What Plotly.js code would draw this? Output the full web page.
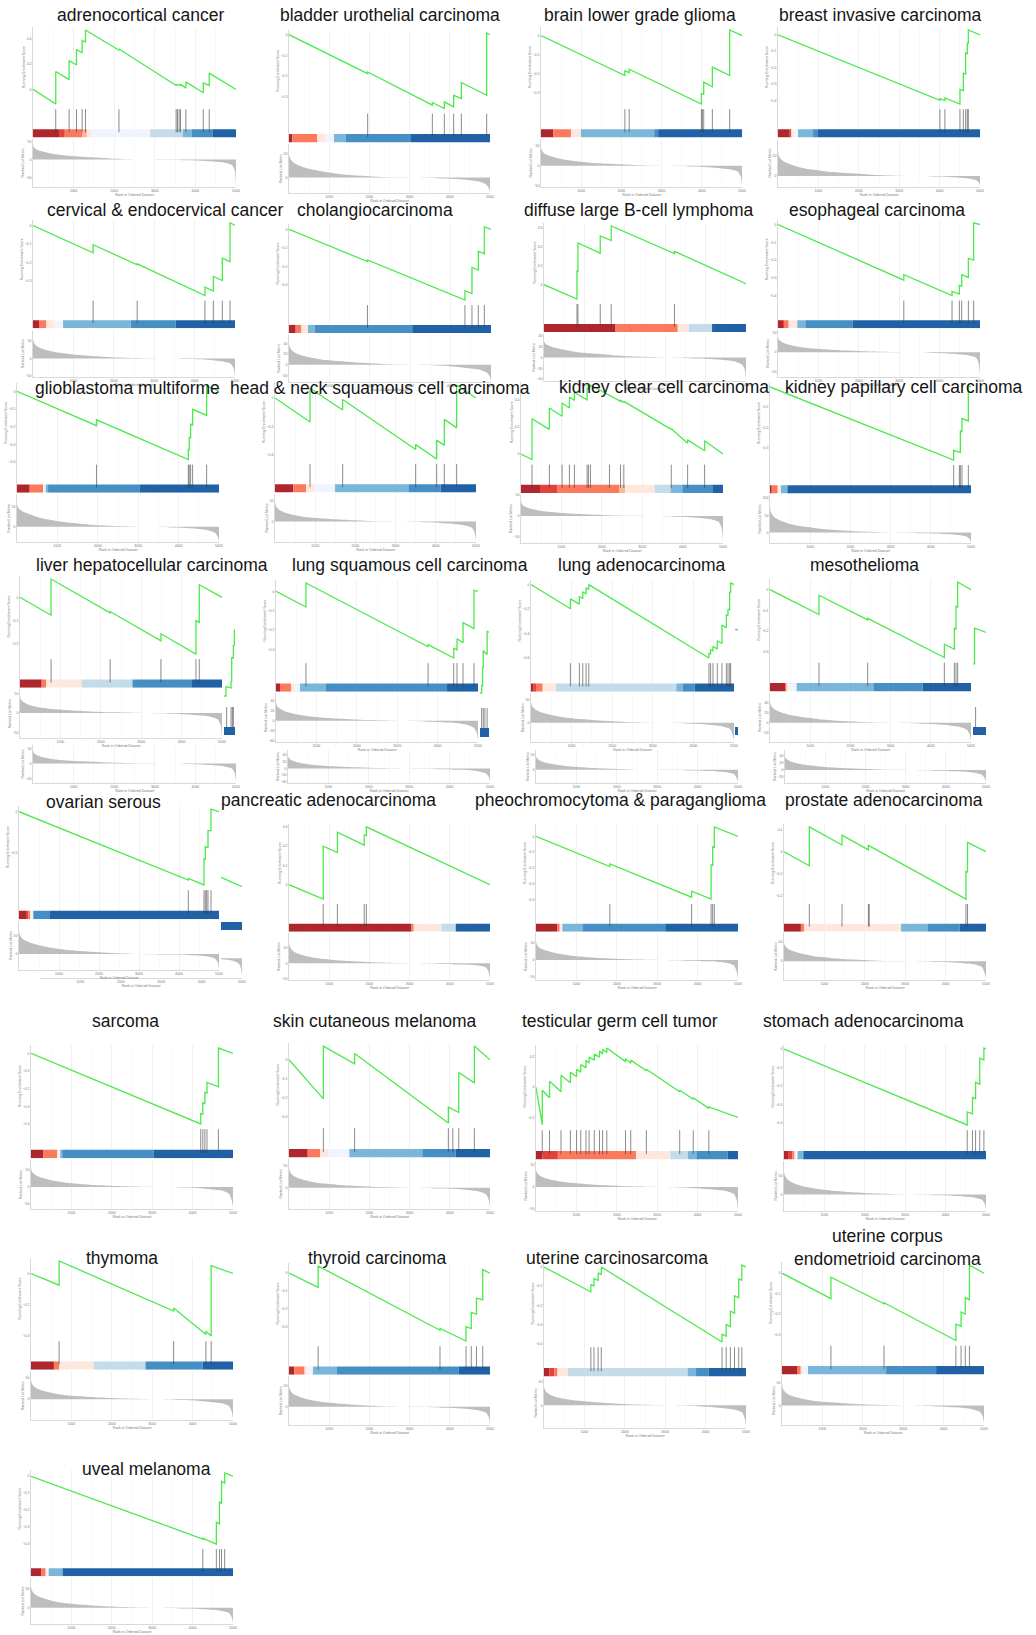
<!DOCTYPE html>
<html><head><meta charset="utf-8">
<script src="https://cdn.plot.ly/plotly-3.0.1.min.js"></script>
<style>body{margin:0;background:#fff}#chart{width:1036px;height:1635px}</style>
</head><body><div id="chart"></div>
<script>
// ---------------- DATA ----------------
const titles = ["adrenocortical cancer","bladder urothelial carcinoma","brain lower grade glioma","breast invasive carcinoma",
"cervical & endocervical cancer","cholangiocarcinoma","diffuse large B-cell lymphoma","esophageal carcinoma",
"glioblastoma multiforme","head & neck squamous cell carcinoma","kidney clear cell carcinoma","kidney papillary cell carcinoma",
"liver hepatocellular carcinoma","lung squamous cell carcinoma","lung adenocarcinoma","mesothelioma",
"ovarian serous","pancreatic adenocarcinoma","pheochromocytoma & paraganglioma","prostate adenocarcinoma",
"sarcoma","skin cutaneous melanoma","testicular germ cell tumor","stomach adenocarcinoma",
"thymoma","thyroid carcinoma","uterine carcinosarcoma","uterine corpus<br>endometrioid carcinoma",
"uveal melanoma"];

const esX = [
[0,560,560,890,890,1071,1071,1211,1211,1293,1293,2117,2117,3526,3526,3633,3633,3765,3765,4193,4193,4341,4341,5000],
[0,1957,1957,3566,3566,3864,3864,4096,4096,4287,4287,4917,4917,5000],
[0,2086,2086,2194,2194,3990,3990,4048,4048,4263,4263,4694,4694,5000],
[0,4008,4008,4132,4132,4504,4504,4587,4587,4645,4645,4686,4686,4711,4711,5000],
[0,1488,1488,2579,2579,4256,4256,4463,4463,4686,4686,4876,4876,5000],
[0,1942,1942,4355,4355,4529,4529,4686,4686,4835,4835,5000],
[0,816,816,840,840,1392,1392,1664,1664,3229,3229,5000],
[0,3114,3114,4308,4308,4489,4489,4547,4547,4712,4712,4843,4843,5000],
[0,1967,1967,4240,4240,4264,4264,4298,4298,4347,4347,4694,4694,5000],
[0,871,871,1683,1683,3499,3499,4022,4022,4212,4212,4519,4519,5000],
[0,273,273,702,702,1017,1017,1198,1198,1322,1322,1636,1636,1669,1669,1719,1719,2190,2190,2463,2463,2545,2545,3719,3719,4124,4124,4545,4545,5000],
[0,4569,4569,4735,4735,4776,4776,4934,4934,5000],
[0,769,769,2231,2231,3488,3488,4355,4355,4438,4438,5000],
[0,741,741,3764,3764,4399,4399,4481,4481,4629,4629,4901,4901,5000],
[0,970,970,1192,1192,1275,1275,1357,1357,1423,1423,4383,4383,4424,4424,4482,4482,4589,4589,4704,4704,4811,4811,4852,4852,4893,4893,4918,4918,5000],
[0,1219,1219,2430,2430,4337,4337,4585,4585,4627,4627,4668,4668,5000],
[0,4233,4233,4625,4625,4658,4658,4725,4725,4800,4800,5000],
[0,851,851,1204,1204,1872,1872,1924,1924,5000],
[0,1828,1828,3851,3851,4334,4334,4373,4373,4413,4413,5000],
[0,627,627,1436,1436,2089,2089,4504,4504,4543,4543,5000],
[0,4201,4201,4253,4253,4304,4304,4356,4356,4639,4639,5000],
[0,855,855,1632,1632,3964,3964,4223,4223,4611,4611,5000],
[0,155,155,335,335,619,619,851,851,1005,1005,1108,1108,1237,1237,1314,1314,1443,1443,1572,1572,1649,1649,1753,1753,2216,2216,2345,2345,2732,2732,3557,3557,3892,3892,4278,4278,5000],
[0,4536,4536,4665,4665,4742,4742,4845,4845,4948,4948,5000],
[0,696,696,3531,3531,4330,4330,4459,4459,5000],
[0,725,725,3756,3756,4404,4404,4534,4534,4663,4663,4819,4819,5000],
[0,1160,1160,1237,1237,1340,1340,1418,1418,4407,4407,4510,4510,4613,4613,4716,4716,4820,4820,4897,4897,5000],
[0,1211,1211,2526,2526,4304,4304,4433,4433,4536,4536,4639,4639,5000],
[0,4253,4253,4588,4588,4665,4665,4716,4716,4794,4794,5000]
];
const esY = [
[0,-0.115,0.141,0.077,0.226,0.192,0.313,0.287,0.385,0.372,0.467,0.308,0.318,0.031,0.038,0.033,0.040,0.010,0.059,-0.026,0.051,0.031,0.128,0],
[0,-0.189,-0.181,-0.342,-0.329,-0.358,-0.326,-0.350,-0.294,-0.310,-0.232,-0.294,0.008,0],
[0,-0.208,-0.183,-0.193,-0.175,-0.356,-0.302,-0.305,-0.242,-0.266,-0.164,-0.208,0.029,0],
[0,-0.40,-0.39,-0.402,-0.386,-0.423,-0.334,-0.342,-0.234,-0.240,-0.11,-0.114,-0.05,-0.052,0.03,0],
[0,-0.148,-0.104,-0.213,-0.208,-0.38,-0.334,-0.355,-0.276,-0.298,-0.177,-0.196,0.014,0.002],
[0,-0.173,-0.164,-0.38,-0.33,-0.345,-0.205,-0.219,-0.118,-0.131,0.013,0],
[0,-0.076,0.073,0.071,0.220,0.166,0.257,0.233,0.310,0.164,0.176,0.005],
[0,-0.313,-0.282,-0.40,-0.376,-0.391,-0.342,-0.346,-0.282,-0.298,-0.191,-0.200,0.009,0],
[0,-0.194,-0.161,-0.385,-0.328,-0.330,-0.259,-0.262,-0.185,-0.190,-0.102,-0.136,0.030,0],
[0,-0.170,0.070,-0.085,-0.010,-0.364,-0.330,-0.432,-0.298,-0.335,-0.151,-0.211,0.093,0],
[0,-0.041,0.261,0.183,0.341,0.280,0.378,0.341,0.422,0.398,0.456,0.402,0.488,0.484,0.505,0.500,0.512,0.432,0.437,0.390,0.398,0.385,0.390,0.183,0.188,0.080,0.105,0.024,0.098,0],
[0,-0.361,-0.313,-0.323,-0.216,-0.222,-0.156,-0.168,0.005,0],
[0,-0.077,0.079,-0.067,-0.061,-0.187,-0.157,-0.244,-0.100,-0.108,0.054,0],
[0,-0.081,0.043,-0.287,-0.276,-0.345,-0.293,-0.305,-0.245,-0.266,-0.162,-0.193,0.005,0],
[0,-0.197,-0.117,-0.160,-0.099,-0.112,-0.059,-0.077,-0.027,-0.037,0.0,-0.60,-0.56,-0.568,-0.53,-0.542,-0.504,-0.526,-0.459,-0.482,-0.331,-0.353,-0.245,-0.253,-0.20,-0.208,-0.059,-0.064,0.013,0],
[0,-0.120,-0.027,-0.146,-0.139,-0.328,-0.264,-0.288,-0.187,-0.191,-0.080,-0.084,0.037,0],
[0,-0.84,-0.82,-0.90,-0.58,-0.585,-0.43,-0.44,-0.23,-0.235,0.033,0],
[0,-0.075,0.20,0.167,0.272,0.205,0.258,0.255,0.30,0],
[0,-0.19,-0.174,-0.384,-0.346,-0.396,-0.18,-0.184,-0.066,-0.070,0.06,0],
[0,-0.064,0.114,0.031,0.076,0.009,0.029,-0.217,-0.090,-0.093,0.043,0],
[0,-0.40,-0.34,-0.345,-0.28,-0.285,-0.22,-0.225,-0.165,-0.19,0.03,0],
[0,-0.206,0.072,-0.022,0.033,-0.333,-0.25,-0.278,-0.067,-0.122,0.072,0],
[0,-0.25,-0.02,-0.07,0.04,-0.03,0.08,0.03,0.1,0.07,0.12,0.1,0.15,0.13,0.18,0.16,0.2,0.18,0.22,0.2,0.24,0.22,0.25,0.23,0.26,0.17,0.19,0.16,0.18,0.11,0.12,-0.03,-0.02,-0.08,-0.07,-0.14,-0.13,-0.2],
[0,-0.41,-0.34,-0.35,-0.26,-0.27,-0.18,-0.19,-0.05,-0.06,0.005,0],
[0,-0.075,0.08,-0.24,-0.22,-0.39,-0.37,-0.40,0.05,0],
[0,-0.08,0.04,-0.32,-0.31,-0.38,-0.30,-0.31,-0.22,-0.23,-0.14,-0.15,0.02,0],
[0,-0.13,-0.09,-0.1,-0.06,-0.07,-0.03,-0.04,0.0,-0.39,-0.35,-0.36,-0.30,-0.31,-0.23,-0.24,-0.15,-0.16,-0.06,-0.07,0.01,0],
[0,-0.125,-0.02,-0.15,-0.145,-0.33,-0.25,-0.26,-0.19,-0.2,-0.12,-0.13,0.04,0],
[0,-0.37,-0.365,-0.40,-0.27,-0.28,-0.15,-0.16,-0.03,-0.04,0.02,0]
];

const hitPos = [
[560,890,1071,1211,1293,2117,3526,3559,3600,3633,3765,4193,4341],
[1957,3566,3864,4096,4287,4917],
[2086,2194,3990,4015,4048,4263,4694],
[4008,4132,4504,4587,4645,4686,4711],
[1488,2579,4256,4463,4686,4876],
[1942,4355,4529,4686,4835],
[816,840,1392,1664,3229],
[3114,4308,4489,4547,4712,4843],
[1967,4240,4264,4298,4347,4694],
[871,1683,3499,4022,4212,4519],
[273,702,1017,1198,1322,1636,1669,1719,2190,2463,2545,3719,4124,4545],
[4569,4710,4735,4776,4934],
[769,2231,3488,4355,4438],
[741,3764,4399,4481,4629,4901],
[970,1192,1275,1357,1423,4383,4424,4482,4589,4704,4811,4852,4893,4918],
[1219,2430,4337,4585,4627,4668],
[4233,4625,4658,4692,4725,4800],
[851,1204,1872,1924],
[1828,3851,4334,4373,4413],
[627,1436,2089,2110,4504,4543],
[4201,4253,4304,4356,4639],
[855,1632,3964,4075,4223,4611],
[155,335,619,851,1005,1108,1237,1314,1443,1572,1649,1753,2216,2345,2732,3557,3892,4278],
[4536,4665,4742,4845,4948],
[696,3531,4330,4459],
[725,3756,4404,4534,4663,4819],
[1160,1237,1340,1418,4407,4510,4613,4716,4820,4897],
[1211,2526,4304,4433,4536,4639],
[4253,4588,4665,4716,4794]
];

const binColors = ["#AE272C","#E1423C","#FB795C","#FCB69C","#FEE8DD","#F1F4FF","#C4DBE9","#7AB6DA","#468FC4","#2162A6"];
const binEdges = [
[0,659,783,1219,1334,1442,2883,3690,3913,4432,5000],
[0,83,83,705,705,896,1119,1119,1418,3035,5000],
[0,306,306,745,745,993,993,993,2815,2914,5000],
[0,289,331,331,331,400,496,496,868,975,5000],
[0,149,149,331,331,537,744,744,2421,3529,5000],
[0,165,165,306,306,471,471,471,636,3050,5000],
[0,1771,1771,3311,3311,3583,3583,4160,4160,4160,5000],
[0,124,165,264,264,478,478,478,676,1853,5000],
[0,314,314,645,645,680,711,711,769,3041,5000],
[0,456,456,771,771,970,1493,1493,3317,4121,5000],
[0,471,893,2438,2579,3306,3306,3702,3992,4736,5000],
[0,30,66,191,191,274,274,274,423,440,5000],
[0,537,537,645,645,1529,1529,2785,2785,4240,5000],
[0,99,99,371,371,450,593,593,1227,4234,5000],
[0,66,123,288,288,617,617,3577,3742,4030,5000],
[0,373,373,415,415,450,663,663,2571,3798,5000],
[0,175,233,275,275,310,358,358,358,758,5000],
[0,3037,3037,3102,3102,3796,3796,4149,4149,4149,5000],
[0,522,522,587,587,620,653,653,1149,3198,5000],
[0,418,418,496,496,2898,2898,2898,3551,4347,5000],
[0,309,309,644,644,700,722,722,773,3041,5000],
[0,466,466,777,777,984,1503,1503,3316,4145,5000],
[0,155,541,2474,2474,3325,3325,3763,3969,4742,5000],
[0,100,206,258,258,300,335,335,464,480,5000],
[0,567,567,696,696,1546,1546,2835,2835,4253,5000],
[0,130,130,389,389,450,596,596,1192,4223,5000],
[0,129,258,335,335,593,593,3557,3763,4072,5000],
[0,387,387,464,464,520,644,644,2577,3814,5000],
[0,258,258,361,361,400,438,438,773,790,5000]
];

const rankX = [0,25,100,250,500,800,1200,1700,2300,2800,3300,3800,4300,4700,4900,4970,5000];
const rankY = [
[39,33,27,22,15,11,7.5,4.5,1,0.3,-0.5,-2,-4.5,-8,-15,-30,-70],
[48,40,32,25,18,13,8,4,1,0.3,-0.5,-2,-4,-8,-14,-22,-30],
[47,38,30,24,17,12,8,5,2,0.5,-0.5,-2,-5,-9,-15,-28,-50],
[62,48,38,30,22,16,11,7,3,1,-0.5,-1.5,-3,-6,-10,-16,-25],
[57,45,35,27,19,14,9,5,2,0.5,-0.5,-2,-4,-9,-16,-30,-50],
[39,32,25,19,14,10,7,4,1.5,0.4,-0.5,-2,-5,-9,-15,-22,-30],
[30,26,22,18,14,10,7,4,1.5,0.4,-0.5,-2,-4,-7,-13,-22,-40],
[40,32,26,20,14,10,7,4,1.5,0.4,-0.5,-2,-4,-8,-14,-30,-60],
[55,47,40,33,24,17,11,6,2,0.5,-0.5,-2,-4,-8,-15,-25,-35],
[45,36,28,21,15,10,7,4,1.5,0.4,-0.5,-2,-5,-9,-15,-28,-45],
[35,28,22,17,12,9,6,3.5,1.2,0.3,-0.5,-2,-4,-8,-15,-30,-60],
[75,58,45,35,25,18,12,7,3,1,-0.5,-2,-4,-7,-12,-20,-28],
[42,34,27,20,14,10,7,4,1.5,0.4,-0.5,-2,-5,-9,-17,-33,-60],
[38,30,24,18,13,9,6,3.5,1.2,0.3,-0.5,-2,-4,-8,-15,-25,-40],
[45,37,30,23,17,12,8,4.5,1.5,0.4,-0.5,-2,-4,-8,-14,-28,-40],
[40,33,27,21,15,11,7,4,1.5,0.4,-0.5,-2,-4,-8,-14,-24,-35],
[62,50,40,32,24,17,11,7,3,1,-0.5,-1.5,-3,-6,-12,-23,-40],
[67,52,40,30,21,15,10,6,2.5,0.7,-0.5,-2,-4,-7,-13,-30,-50],
[55,45,36,28,20,14,9,5,2,0.5,-0.5,-2,-4,-8,-16,-35,-55],
[50,40,32,25,18,12,8,4.5,1.5,0.4,-0.5,-2,-4,-8,-15,-32,-45],
[55,45,36,28,20,14,9,5,2,0.5,-0.5,-2,-5,-10,-20,-40,-60],
[45,36,28,21,15,10,7,4,1.5,0.4,-0.5,-2,-4,-8,-15,-28,-45],
[40,32,25,19,14,10,7,4,1.5,0.4,-0.5,-2,-5,-9,-16,-30,-50],
[60,48,38,29,21,15,10,6,2.5,0.7,-0.5,-2,-4,-8,-14,-25,-40],
[45,36,28,21,15,10,7,4,1.5,0.4,-0.5,-2,-5,-9,-16,-30,-45],
[50,40,31,24,17,12,8,4.5,1.5,0.4,-0.5,-2,-4,-8,-14,-25,-40],
[40,32,25,19,14,10,7,4,1.5,0.4,-0.5,-2,-5,-9,-15,-28,-45],
[45,36,28,21,15,10,7,4,1.5,0.4,-0.5,-2,-4,-8,-14,-25,-40],
[55,45,35,27,19,13,9,5,2,0.5,-0.5,-2,-4,-8,-14,-25,-40]
];
const xTicks = [1000,2000,3000,4000,5000];

// fragments (stray pieces next to row-4/5 panels), in 0..1 units
const fragEsX = [
[0,0.18,0.18,0.55,0.64,0.64,0.70,0.70,0.85,0.85,0.94,0.94,1],
[0,0.18,0.18,0.29,0.29,0.36,0.36,0.79,0.79,1],
[0,1],
[0,0.12,0.12,1],
[0,1]
];
const fragEsY = [
[0,0,0.14,0.13,0.12,0.22,0.21,0.58,0.56,0.76,0.75,0.99,0.98],
[0,0,0.12,0.12,0.41,0.41,0.67,0.61,0.98,0.96],
[0.5,0.45],
[0,0,1,0.88],
[1,0]
];
const fragHits = [[0.24,0.64,0.76,0.85],[0.18,0.36,0.54,0.79],[],[0.2],[]];
const fragRankX = [0,0.3,0.6,0.85,0.95,1];
const fragRankY = [-0.05,-0.08,-0.14,-0.3,-0.55,-1];

// ---------------- LAYOUT POSITIONS (px) ----------------
const W = 1036, H = 1635;
// [x0, x1, yTop, yBot, titleX, titleY]
const panelBox = [
[33,236,27,187,140,15],[289,490,30,193,390,15],[541,742,27,187,640,15],[778,980,27,187,880,15],
[33,235,220,377,165,210],[289,491,224,382,375,210],[544,746,223,381,638,210],[778,980,220,377,877,210],
[17,219,383,542,127,388],[275,476,382,542,380,388],[521,723,382,543,664,387],[770,971,383,543,904,387],
[20,222,576,738,152,565],[276,478,580,742,410,565],[531,734,580,742,642,565],[770,971,579,742,864,565],
[19,219,806,970,103,802],[289,490,824,980,328,800],[536,738,824,980,620,800],[784,986,824,980,884,800],
[31,233,1045,1209,125,1021],[289,490,1043,1209,375,1021],[536,738,1045,1211,620,1021],[784,986,1045,1211,863,1021],
[31,233,1258,1420,122,1258],[289,490,1263,1425,377,1258],[544,746,1262,1428,617,1258],[782,984,1262,1425,887,1247],
[31,233,1470,1624,146,1469]
];
// second ranked panels in row 4: [panel, x0, x1, yTop, yBot]
const extraRank = [[12,33,236,745,783],[13,288,490,750,783],[14,536,738,750,783],[15,785,986,750,783]];
// fragments: [x0,x1, esTop, esBot, hitTop, barTop, barBot]
const fragBox = [
[224,235,627,698,707,727,735],
[480,489,628,695,708,728,737],
[735,738,627,632,722,727,735],
[973,986,627,665,707,727,735],
[221,242,877,887,918,922,930]
];
const fragRankBox = [221,242,958,977];

// ---------------- BUILD ----------------
const traces = [];
const layout = {
  width: W, height: H, margin: {l:0,r:0,t:0,b:0}, autosize: false,
  paper_bgcolor: '#fff', plot_bgcolor: '#fff', showlegend: false, barmode: 'overlay',
  font: {family: 'Liberation Sans, Arial, sans-serif', color: '#222'},
  annotations: []
};
let nx = 0, ny = 0;
const xid = n => n === 1 ? 'x' : 'x' + n;
const yid = n => n === 1 ? 'y' : 'y' + n;
const xkey = n => n === 1 ? 'xaxis' : 'xaxis' + n;
const ykey = n => n === 1 ? 'yaxis' : 'yaxis' + n;
const fx = p => p / W;
const fy = p => 1 - p / H;
const tiny = {size: 3.5, color: '#777'};
const GREEN = '#4BEA4B';

function xAxisFull(x0, x1, anchorY, showLabels) {
  return {
    domain: [fx(x0), fx(x1)], anchor: anchorY, range: [0, 5000],
    tickmode: 'array', tickvals: xTicks, ticks: '', showticklabels: showLabels, tickfont: tiny,
    showgrid: true, gridcolor: '#EBEBEB', gridwidth: 0.6,
    minor: {tickmode: 'linear', tick0: 0, dtick: 500, showgrid: true, gridcolor: '#F3F3F3', gridwidth: 0.5},
    showline: true, linecolor: '#CFCFCF', linewidth: 0.8, zeroline: false,
    title: showLabels ? {text: 'Rank in Ordered Dataset', font: tiny, standoff: 1} : {text: ''},
    fixedrange: true
  };
}
function yAxis(y0, y1, anchorX, range, titleText, showLabels) {
  return {
    domain: [fy(y1), fy(y0)], anchor: anchorX, range: range,
    showgrid: false, zeroline: false, showline: true, linecolor: '#CFCFCF', linewidth: 0.8,
    ticks: '', showticklabels: showLabels, tickfont: tiny, nticks: 5,
    title: {text: titleText, font: tiny, standoff: 1}, fixedrange: true
  };
}

panelBox.forEach((b, i) => {
  const [x0, x1, yT, yB, tx, ty] = b;
  const h = yB - yT;
  const esBot = yT + 0.5 * h, hitBot = yT + 0.69 * h, rkTop = yT + 0.7 * h;
  const xn = ++nx, ye = ++ny, yh = ++ny, yr = ++ny;
  layout[xkey(xn)] = xAxisFull(x0, x1, yid(yr), true);
  const emin = Math.min(...esY[i]), emax = Math.max(...esY[i]), es = emax - emin;
  layout[ykey(ye)] = yAxis(yT, esBot, xid(xn), [emin - 0.04 * es, emax + 0.04 * es], 'Running Enrichment Score', true);
  layout[ykey(yh)] = yAxis(esBot, hitBot, xid(xn), [0, 1], '', false);
  const rmin = Math.min(...rankY[i]), rmax = Math.max(...rankY[i]);
  layout[ykey(yr)] = yAxis(rkTop, yB, xid(xn), [rmin * 1.08, rmax * 1.45], 'Ranked List Metric', true);

  traces.push({type: 'scatter', mode: 'lines', x: esX[i], y: esY[i], xaxis: xid(xn), yaxis: yid(ye),
    line: {color: GREEN, width: 1.3}, hoverinfo: 'skip'});
  const e = binEdges[i];
  traces.push({type: 'bar', orientation: 'h', y: binColors.map(() => 0.135), x: binColors.map((c, k) => e[k + 1] - e[k]),
    base: binColors.map((c, k) => e[k]), width: 0.27, marker: {color: binColors, line: {width: 0}},
    xaxis: xid(xn), yaxis: yid(yh), hoverinfo: 'skip'});
  const hx = [], hy = [];
  hitPos[i].forEach(v => { hx.push(v, v, null); hy.push(0.17, 0.93, null); });
  traces.push({type: 'scatter', mode: 'lines', x: hx, y: hy, xaxis: xid(xn), yaxis: yid(yh),
    line: {color: 'rgba(60,60,60,0.75)', width: 0.8}, hoverinfo: 'skip'});
  traces.push({type: 'scatter', mode: 'lines', x: rankX, y: rankY[i], xaxis: xid(xn), yaxis: yid(yr),
    fill: 'tozeroy', fillcolor: '#BEBEBE', line: {width: 0, shape: 'spline', smoothing: 0.6}, hoverinfo: 'skip'});

  layout.annotations.push({xref: 'paper', yref: 'paper', x: fx(tx), y: fy(ty), text: titles[i], showarrow: false,
    xanchor: 'center', yanchor: 'middle', font: {size: 17.5, color: '#151515', family: 'Liberation Sans, Arial, sans-serif'}});
});

extraRank.forEach(r => {
  const [p, x0, x1, yT, yB] = r;
  const xn = ++nx, yr = ++ny;
  layout[xkey(xn)] = xAxisFull(x0, x1, yid(yr), true);
  const rmin = Math.min(...rankY[p]), rmax = Math.max(...rankY[p]);
  layout[ykey(yr)] = yAxis(yT, yB, xid(xn), [rmin * 1.08, rmax * 1.45], 'Ranked List Metric', true);
  traces.push({type: 'scatter', mode: 'lines', x: rankX, y: rankY[p], xaxis: xid(xn), yaxis: yid(yr),
    fill: 'tozeroy', fillcolor: '#BEBEBE', line: {width: 0, shape: 'spline', smoothing: 0.6}, hoverinfo: 'skip'});
});

const hid = {showgrid: false, zeroline: false, showline: false, showticklabels: false, ticks: '', fixedrange: true};
fragBox.forEach((f, i) => {
  const [x0, x1, eT, eB, hT, bT, bB] = f;
  const xn = ++nx, ye = ++ny, yh = ++ny;
  layout[xkey(xn)] = Object.assign({}, hid, {domain: [fx(x0), fx(x1)], anchor: yid(yh), range: [0, 1]});
  layout[ykey(ye)] = Object.assign({}, hid, {domain: [fy(eB), fy(eT)], anchor: xid(xn), range: [-0.03, 1.03]});
  const pad = (bB - bT) / (bB - hT);
  layout[ykey(yh)] = Object.assign({}, hid, {domain: [fy(bB), fy(hT)], anchor: xid(xn), range: [0, 1]});
  traces.push({type: 'scatter', mode: 'lines', x: fragEsX[i], y: fragEsY[i], xaxis: xid(xn), yaxis: yid(ye),
    line: {color: GREEN, width: 1.3}, hoverinfo: 'skip'});
  traces.push({type: 'bar', orientation: 'h', y: [pad / 2], x: [1], base: [0], width: pad,
    marker: {color: binColors[9]}, xaxis: xid(xn), yaxis: yid(yh), hoverinfo: 'skip'});
  const hx = [], hy = [];
  fragHits[i].forEach(v => { hx.push(v, v, null); hy.push(pad, 1, null); });
  if (hx.length) traces.push({type: 'scatter', mode: 'lines', x: hx, y: hy, xaxis: xid(xn), yaxis: yid(yh),
    line: {color: 'rgba(60,60,60,0.75)', width: 0.8}, hoverinfo: 'skip'});
});
{
  const [x0, x1, yT, yB] = fragRankBox;
  const xn = ++nx, yr = ++ny;
  layout[xkey(xn)] = Object.assign({}, hid, {domain: [fx(x0), fx(x1)], anchor: yid(yr), range: [0, 1]});
  layout[ykey(yr)] = Object.assign({}, hid, {domain: [fy(yB), fy(yT)], anchor: xid(xn), range: [-1.02, 0.02]});
  traces.push({type: 'scatter', mode: 'lines', x: fragRankX, y: fragRankY, xaxis: xid(xn), yaxis: yid(yr),
    fill: 'tozeroy', fillcolor: '#BEBEBE', line: {width: 0, shape: 'spline'}, hoverinfo: 'skip'});
  // stray extra x axis under ovarian panel
  const xa = ++nx, ya = ++ny;
  layout[xkey(xa)] = xAxisFull(40, 242, yid(ya), true);
  layout[xkey(xa)].showgrid = false; layout[xkey(xa)].minor = {showgrid: false};
  layout[ykey(ya)] = Object.assign({}, hid, {domain: [fy(978), fy(976)], anchor: xid(xa), range: [0, 1]});
  traces.push({type: 'scatter', mode: 'lines', x: [0], y: [0], xaxis: xid(xa), yaxis: yid(ya), line: {width: 0}, hoverinfo: 'skip'});
}

Plotly.newPlot('chart', traces, layout, {staticPlot: true, displayModeBar: false});
</script>
</body></html>
